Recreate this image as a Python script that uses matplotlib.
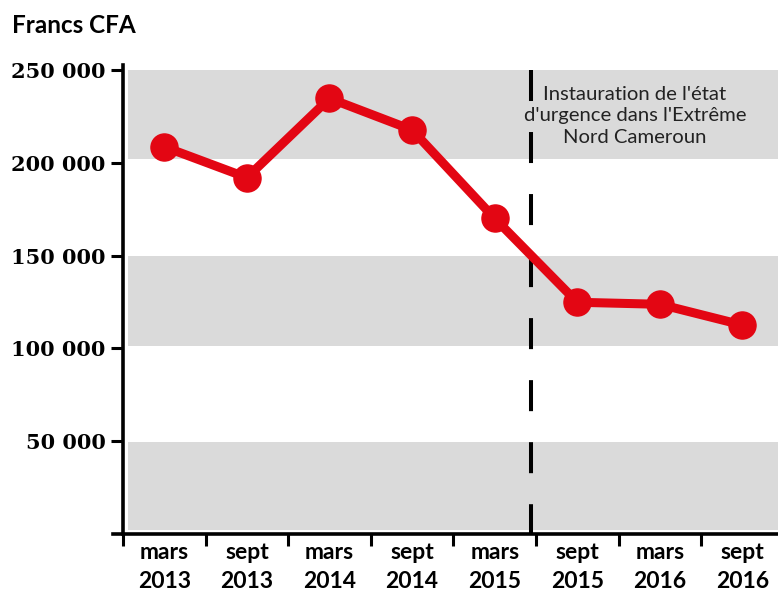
import matplotlib.pyplot as plt
import numpy as np

labels = ["mars\n2013", "sept\n2013", "mars\n2014", "sept\n2014",
          "mars\n2015", "sept\n2015", "mars\n2016", "sept\n2016"]
prix = [208600, 192000, 234700, 217700, 170000, 124800, 123700, 112500]
yticks = [50000, 100000, 150000, 200000, 250000]
ytick_labels = ["50 000", "100 000", "150 000", "200 000", "250 000"]
bandes = [(1800, 49700), (101000, 149900), (202000, 250000)]
x_urgence = 4.44
note = "Instauration de l'état\nd'urgence dans l'Extrême\nNord Cameroun"

rouge = "#e30613"
gris = "#dadada"

fig = plt.figure(figsize=(7.78, 5.94), dpi=100)
ax = fig.add_axes([123 / 778, 60.25 / 594, 655 / 778, 468.75 / 594])

x = np.arange(len(prix))
ax.set_xlim(-0.5, 7.43)
ax.set_ylim(0, 252700)

for b0, b1 in bandes:
    ax.fill_between([-0.44, 7.43], b0, b1, color=gris, lw=0, zorder=0)

# ligne verticale : etat d'urgence
ax.plot([x_urgence, x_urgence], [250000, 0], color="black", lw=2.9,
        linestyle=(0, (7.7, 7.7)), dash_capstyle="butt", zorder=2)

ax.plot(x, prix, color=rouge, lw=6.5, marker="o", markersize=19.5,
        solid_joinstyle="round", zorder=3)

ax.annotate(note, xy=(635, 594 - 116), xycoords="figure pixels",
            ha="center", va="center", multialignment="center",
            fontsize=14.6, family=["Lato", "DejaVu Sans"], color="#222222",
            linespacing=1.3)

for s in ["top", "right"]:
    ax.spines[s].set_visible(False)
ax.spines["left"].set_linewidth(2.6)
ax.spines["bottom"].set_linewidth(2.6)
ax.spines["bottom"].set_bounds(-0.62, 7.43)

ax.set_yticks(yticks)
ax.set_yticklabels(ytick_labels, fontsize=15, fontweight="bold",
                   family="DejaVu Serif")
ax.tick_params(axis="y", length=8.6, width=2.2, pad=4)

ax.set_xticks(np.arange(-0.5, 7, 1))
ax.set_xticklabels([])
ax.tick_params(axis="x", which="major", length=8.6, width=2.2)
ax.set_xticks(x, minor=True)
ax.set_xticklabels(labels, minor=True, fontsize=16.5, fontweight="bold",
                   family=["Lato", "DejaVu Sans"], linespacing=1.45)
ax.tick_params(axis="x", which="minor", length=0, pad=6)

fig.text(12 / 778, 1 - 33 / 594, "Francs CFA", fontsize=17.5, fontweight="bold",
         family=["Lato", "DejaVu Sans"], va="baseline", ha="left")

fig.savefig("out.png", dpi=100)
